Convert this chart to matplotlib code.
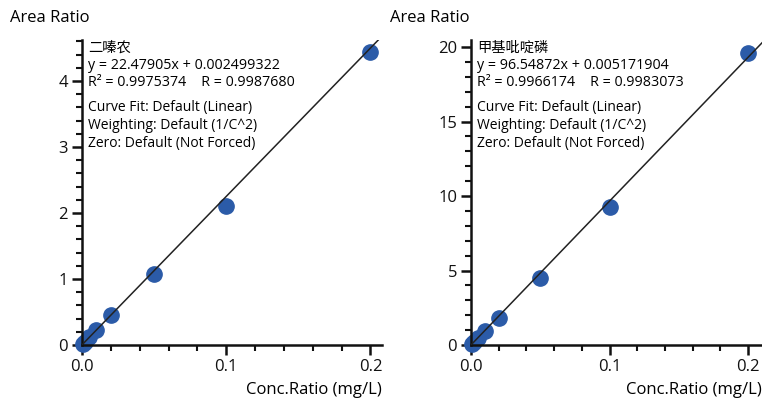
import numpy as np
import matplotlib.pyplot as plt
from matplotlib.ticker import MultipleLocator

plt.rcParams['font.family'] = ['Open Sans', 'Noto Sans CJK SC', 'DejaVu Sans']

# calibration data
conc = [0.001, 0.002, 0.005, 0.01, 0.02, 0.05, 0.1, 0.2]
area_a = [0.02, 0.05, 0.12, 0.22, 0.46, 1.07, 2.11, 4.44]
area_b = [0.1, 0.2, 0.5, 0.95, 1.8, 4.48, 9.25, 19.6]

names = ["二嗪农", "甲基吡啶磷"]
slopes = [22.47905, 96.54872]
intercepts = [0.002499322, 0.005171904]
r2s = ["0.9975374", "0.9966174"]
rs = ["0.9987680", "0.9983073"]

fig = plt.figure(figsize=(7.62, 4.03), dpi=100)
W, H = 762, 403
boxes = [(82, 40, 300, 305), (471, 40, 291, 305)]
title_x = [10, 390]
ylims = [4.62, 20.47]
xlims = [0.208, 0.21]
ymaj = [1, 5]
ymin = [0.2, 1]
ys = [area_a, area_b]
blue = '#2B5BA8'

for i in range(2):
    x0, y0, w, h = boxes[i]
    ax = fig.add_axes([x0 / W, 1 - (y0 + h) / H, w / W, h / H])
    ax.plot(conc, ys[i], 'o', color=blue, ms=11, zorder=2, clip_on=False)
    xl = np.array([0, 0.22])
    ax.plot(xl, slopes[i] * xl + intercepts[i], color='#222222', lw=1.1, zorder=3)
    ax.set_xlim(0, xlims[i])
    ax.set_ylim(0, ylims[i])
    for s in ['top', 'right']:
        ax.spines[s].set_visible(False)
    for s in ['left', 'bottom']:
        ax.spines[s].set_linewidth(1.8)
        ax.spines[s].set_color('#111111')
    ax.xaxis.set_major_locator(MultipleLocator(0.1))
    ax.xaxis.set_minor_locator(MultipleLocator(0.02))
    ax.yaxis.set_major_locator(MultipleLocator(ymaj[i]))
    ax.yaxis.set_minor_locator(MultipleLocator(ymin[i]))
    ax.xaxis.set_major_formatter(lambda v, p: f"{v:.1f}")
    ax.tick_params(which='major', length=7, width=1.8, labelsize=12, colors='#111111', pad=3)
    ax.tick_params(which='minor', length=4, width=1.5, colors='#111111')
    ax.set_facecolor('none')

    fig.text(title_x[i] / W, 1 - 18 / H, "Area Ratio", fontsize=12, va='center', ha='left')
    fig.text((x0 + w) / W, 1 - 390 / H, "Conc.Ratio (mg/L)", fontsize=12, va='center', ha='right')

    tx = (x0 + 6) / W
    lines = [names[i],
             f"y = {slopes[i]}x + {intercepts[i]}",
             f"R² = {r2s[i]}    R = {rs[i]}"]
    for k, t in enumerate(lines):
        fig.text(tx, 1 - (48 + 17.5 * k) / H, t, fontsize=10.3, va='center', ha='left')
    lines2 = ["Curve Fit: Default (Linear)",
              "Weighting: Default (1/C^2)",
              "Zero: Default (Not Forced)"]
    for k, t in enumerate(lines2):
        fig.text(tx, 1 - (108 + 17.5 * k) / H, t, fontsize=10, va='center', ha='left')

fig.savefig("out.png", dpi=100)
